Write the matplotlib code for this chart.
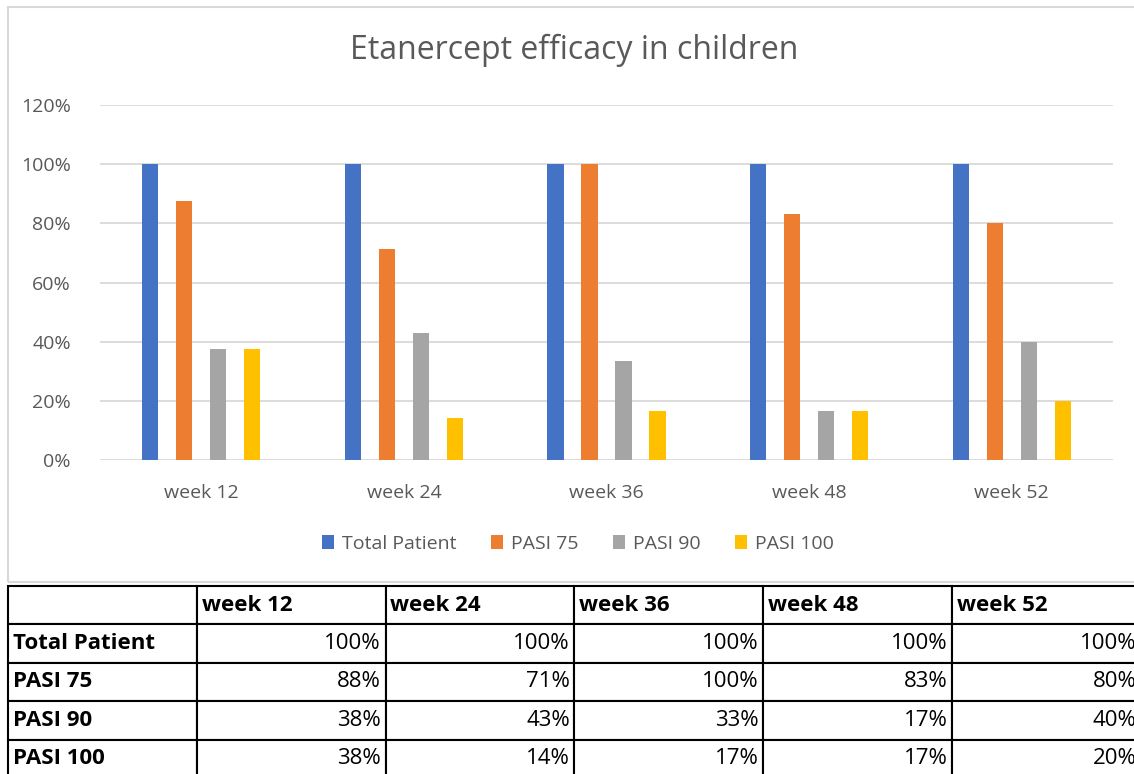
import numpy as np
import matplotlib.pyplot as plt
from matplotlib.patches import Rectangle

plt.rcParams['font.family'] = ['Open Sans', 'DejaVu Sans']

weeks = ["week 12", "week 24", "week 36", "week 48", "week 52"]
series = ["Total Patient", "PASI 75", "PASI 90", "PASI 100"]
total_patient = [1.00, 1.00, 1.00, 1.00, 1.00]
pasi_75 = [0.875, 0.714, 1.00, 0.833, 0.80]
pasi_90 = [0.375, 0.429, 0.333, 0.167, 0.40]
pasi_100 = [0.375, 0.143, 0.167, 0.167, 0.20]
colors = ["#4472C4", "#ED7D31", "#A5A5A5", "#FFC000"]

W, H = 1134, 774
fig = plt.figure(figsize=(W / 100, H / 100), dpi=100)

# chart frame
fig.patches.append(Rectangle((8 / W, 1 - 582 / H), (1140 - 8) / W, (582 - 7) / H,
                             transform=fig.transFigure, fill=False,
                             edgecolor="#d9d9d9", linewidth=1.5))

ax = fig.add_axes([100 / W, 1 - 460 / H, 1013 / W, 355 / H])
x = np.arange(len(weeks))
pitch = 0.168
for i, (name, vals) in enumerate(zip(series, [total_patient, pasi_75, pasi_90, pasi_100])):
    ax.bar(x + (i - 1.5) * pitch, vals, width=0.08, color=colors[i], label=name, zorder=3)

ax.set_xlim(-0.5, 4.5)
ax.set_ylim(0, 1.2)
ax.set_yticks(np.arange(0, 1.21, 0.2))
ax.set_yticklabels([f"{int(round(v * 100))}%" for v in np.arange(0, 1.21, 0.2)])
ax.set_xticks(x)
ax.set_xticklabels(weeks)
ax.tick_params(axis="both", length=0, labelsize=14, labelcolor="#595959")
ax.tick_params(axis="y", pad=21)
ax.tick_params(axis="x", pad=17)
ax.grid(axis="y", color="#d9d9d9", linewidth=1.3, zorder=0)
for s in ax.spines.values():
    s.set_visible(False)

fig.text(574 / W, 1 - 50 / H, "Etanercept efficacy in children", fontsize=23,
         color="#595959", ha="center", va="center")

leg = ax.legend(loc="center", bbox_to_anchor=(478 / 1013, (460 - 544) / 355), ncol=4,
                frameon=False, fontsize=14, handlelength=0.6, handleheight=0.7,
                handletextpad=0.4, columnspacing=1.8, labelcolor="#595959")

# data table below the chart
tax = fig.add_axes([8 / W, 1 - 778 / H, (1141 - 8) / W, (778 - 586) / H])
tax.axis("off")
data = [total_patient, pasi_75, pasi_90, pasi_100]
cells = [[""] + weeks] + [[series[r]] + [f"{round(v * 100):.0f}%" for v in data[r]] for r in range(4)]
tbl = tax.table(cellText=cells, bbox=[0, 0, 1, 1], cellLoc="left")
tbl.auto_set_font_size(False)
for (r, c), cell in tbl.get_celld().items():
    cell.set_edgecolor("black")
    cell.set_linewidth(1.5)
    cell.PAD = 0.025
    txt = cell.get_text()
    txt.set_fontsize(16)
    txt.set_color("black")
    if r == 0 or c == 0:
        txt.set_fontweight("bold")
        txt.set_horizontalalignment("left")
    else:
        txt.set_horizontalalignment("right")

fig.savefig("out.png", dpi=100)
